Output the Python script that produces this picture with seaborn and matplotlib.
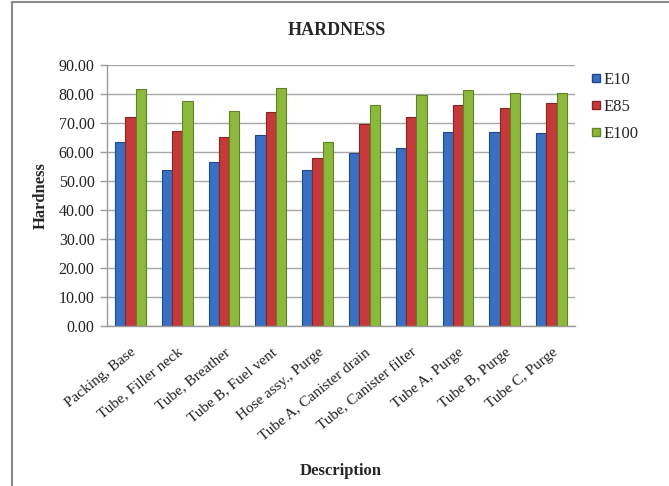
import matplotlib
matplotlib.use("Agg")
import matplotlib.pyplot as plt
import seaborn as sns
import pandas as pd
from matplotlib.lines import Line2D
from matplotlib.ticker import FormatStrFormatter

# Hardness readings per component for each fuel blend
descriptions = [
    "Packing, Base", "Tube, Filler neck", "Tube, Breather", "Tube B, Fuel vent",
    "Hose assy., Purge", "Tube A, Canister drain", "Tube, Canister filter",
    "Tube A, Purge", "Tube B, Purge", "Tube C, Purge",
]
e10 = [63.5, 53.8, 56.4, 65.7, 53.8, 59.5, 61.3, 67.0, 67.0, 66.7]
e85 = [71.9, 67.1, 65.3, 73.8, 57.8, 69.7, 71.9, 76.3, 75.1, 77.0]
e100 = [81.6, 77.5, 74.1, 82.0, 63.6, 76.3, 79.5, 81.3, 80.2, 80.2]
series = ["E10", "E85", "E100"]

df = pd.DataFrame({
    "Description": descriptions * 3,
    "Hardness": e10 + e85 + e100,
    "Fuel": [s for s in series for _ in descriptions],
})

sns.set_theme(style="white")
plt.rcParams["font.family"] = ["Liberation Serif", "DejaVu Serif"]

fig = plt.figure(figsize=(6.69, 4.86), dpi=100)
ax = fig.add_axes([107 / 669, 1 - 326 / 486, 468 / 669, 261 / 486])

palette = {"E10": "#3a70c2", "E85": "#c43a3a", "E100": "#8cb83c"}
edges = {"E10": "#1f4a8a", "E85": "#8a2323", "E100": "#5f8424"}

sns.barplot(data=df, x="Description", y="Hardness", hue="Fuel",
            palette=palette, width=0.66, saturation=1, ax=ax,
            errorbar=None, legend=False)

for cont, name in zip(ax.containers, series):
    for bar in cont:
        bar.set_edgecolor(edges[name])
        bar.set_linewidth(0.8)

ax.set_ylim(0, 90)
ax.set_xlim(-0.5, len(descriptions) - 0.5)
ax.set_yticks(range(0, 91, 10))
ax.yaxis.set_major_formatter(FormatStrFormatter("%.2f"))
ax.yaxis.grid(True, color="#a8a8a8", linewidth=1.0)
ax.set_axisbelow(True)

for side in ("top", "right"):
    ax.spines[side].set_visible(False)
for side in ("left", "bottom"):
    ax.spines[side].set_color("#9a9a9a")
    ax.spines[side].set_linewidth(1.0)

ax.tick_params(axis="y", which="major", length=5, width=1, color="#9a9a9a",
               left=True, labelsize=11.5, labelcolor="#222222", pad=4)
ax.tick_params(axis="x", length=0, labelsize=11, labelcolor="#222222", pad=14)
plt.setp(ax.get_xticklabels(), rotation=39, ha="right", rotation_mode="anchor")

ax.set_xlabel("Description", fontsize=12, fontweight="bold", labelpad=0)
ax.xaxis.set_label_coords(0.5, -0.525)
ax.set_ylabel("Hardness", fontsize=12, fontweight="bold", labelpad=7)

fig.text(337 / 669, 1 - 30 / 486, "HARDNESS", ha="center", va="center",
         fontsize=13, fontweight="bold")

handles = [Line2D([0], [0], marker="s", linestyle="none", markersize=6,
                  markerfacecolor=palette[s], markeredgecolor=edges[s])
           for s in series]
fig.legend(handles, series, loc="upper left", bbox_to_anchor=(583 / 669, 1 - 65 / 486),
           frameon=False, fontsize=12, handletextpad=0.05, labelspacing=0.68,
           borderaxespad=0, handlelength=0.8)

# frame around the chart area
fx = 12 / 669
fy = 1 - 2 / 486
fig.add_artist(Line2D([fx, fx], [0, fy], color="#8a8a8a", linewidth=1.5,
                      transform=fig.transFigure))
fig.add_artist(Line2D([fx, 1], [fy, fy], color="#8a8a8a", linewidth=1.5,
                      transform=fig.transFigure))

fig.savefig("out.png", dpi=100)
